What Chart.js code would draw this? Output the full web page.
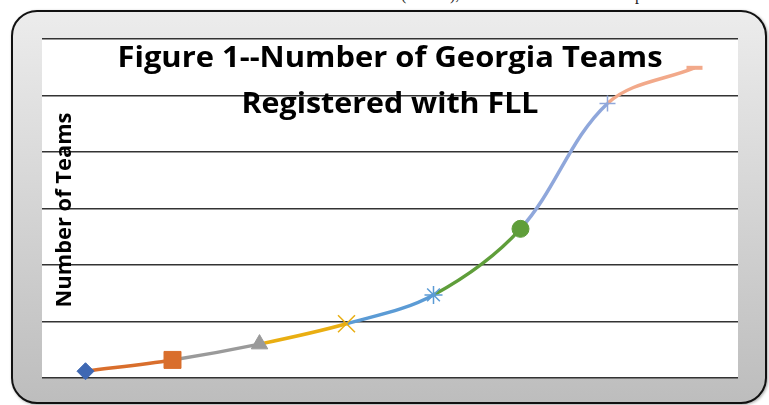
<!DOCTYPE html>
<html>
<head>
<meta charset="utf-8">
<script src="https://cdn.jsdelivr.net/npm/chart.js@4"></script>
<style>
  body { margin: 0; background: #fff; }
  #wrap { position: relative; width: 769px; height: 405px; overflow: hidden; }
  #box {
    position: absolute; left: 11px; top: 10px; width: 752px; height: 390px;
    border: 2px solid #111; border-radius: 26px;
    background: linear-gradient(#ececec, #bdbdbd);
    box-shadow: 1px 1px 3px rgba(0,0,0,0.35);
  }
  .frag { position: absolute; top: -14px; font: 16px "Liberation Serif", serif; color: #222; white-space: nowrap; }
  canvas { position: absolute; left: 0; top: 0; }
</style>
</head>
<body>
<div id="wrap">
  <span class="frag" style="left:401px">(FIRST),</span>
  <span class="frag" style="left:627px">up</span>
  <div id="box"></div>
  <canvas id="chart1" width="769" height="405"></canvas>
</div>
<script>
// data (gridline step = 100)
var seasons = ['1', '2', '3', '4', '5', '6', '7', '8'];
var teams = [12, 32, 60, 96, 147, 264, 486, 549];
var pointColors = ['#3F68B3', '#D96E2C', '#9A9A9A', '#E9AE12', '#5B9BD5', '#5F9E3A', '#8FA7DB', '#F2A98A'];
var pointStyles = ['rectRot', 'rect', 'triangle', 'crossRot', 'star', 'circle', 'cross', 'line'];
var pointSizes = [8.5, 12, 9.5, 12, 9, 8.5, 8, 8];
var pointLines = [1, 1, 1, 1.5, 1.5, 1, 1.5, 4];
var titleLines = ['Figure 1--Number of Georgia Teams', 'Registered with FLL'];
var yTitle = 'Number of Teams';

// draw text centred at x, stretched/squeezed to a given width (Calibri-ish proportions)
function fitText(ctx, text, x, y, width) {
  var w = ctx.measureText(text).width;
  ctx.save();
  ctx.translate(x, y);
  ctx.scale(width / w, 1);
  ctx.fillText(text, 0, 0);
  ctx.restore();
}

// white plot background + titles drawn inside the plot area
var plotDecor = {
  id: 'plotDecor',
  beforeDraw: function(chart) {
    var a = chart.chartArea;
    var ctx = chart.ctx;
    ctx.save();
    ctx.fillStyle = '#fff';
    ctx.fillRect(a.left, a.top, a.right - a.left, a.bottom - a.top);
    ctx.restore();
  },
  afterDraw: function(chart) {
    var a = chart.chartArea;
    var ctx = chart.ctx;
    var cx = (a.left + a.right) / 2;
    ctx.save();
    ctx.fillStyle = '#000';
    ctx.textAlign = 'center';
    ctx.textBaseline = 'alphabetic';
    ctx.font = 'bold 29px "Open Sans"';
    fitText(ctx, titleLines[0], cx, 67, 545);
    fitText(ctx, titleLines[1], cx, 113, 297);

    ctx.translate(71, 210);
    ctx.rotate(-Math.PI / 2);
    ctx.font = 'bold 22px "Open Sans"';
    fitText(ctx, yTitle, 0, 0, 195);
    ctx.restore();
  }
};

var config = {
  type: 'line',
  data: {
    labels: seasons,
    datasets: [
      {
        label: 'Teams',
        data: teams,
        borderWidth: 3.5,
        tension: 0.35,
        clip: false,
        segment: {
          borderColor: function(ctx) { return pointColors[ctx.p1DataIndex]; }
        },
        pointStyle: pointStyles,
        pointRadius: pointSizes,
        pointBackgroundColor: pointColors,
        pointBorderColor: pointColors,
        pointBorderWidth: pointLines
      }
    ]
  },
  options: {
    responsive: false,
    animation: false,
    layout: { padding: { left: 42, top: 39, right: 31, bottom: 27 } },
    plugins: { legend: { display: false }, tooltip: { enabled: false } },
    scales: {
      x: { display: false, offset: true },
      y: {
        min: 0,
        max: 600,
        ticks: { display: false, stepSize: 100 },
        border: { display: false },
        grid: { drawTicks: false, color: '#333', lineWidth: 1.5 },
        afterFit: function(axis) { axis.width = 0; }
      }
    }
  },
  plugins: [plotDecor]
};

var chart = new Chart(document.getElementById('chart1'), config);
</script>
</body>
</html>
